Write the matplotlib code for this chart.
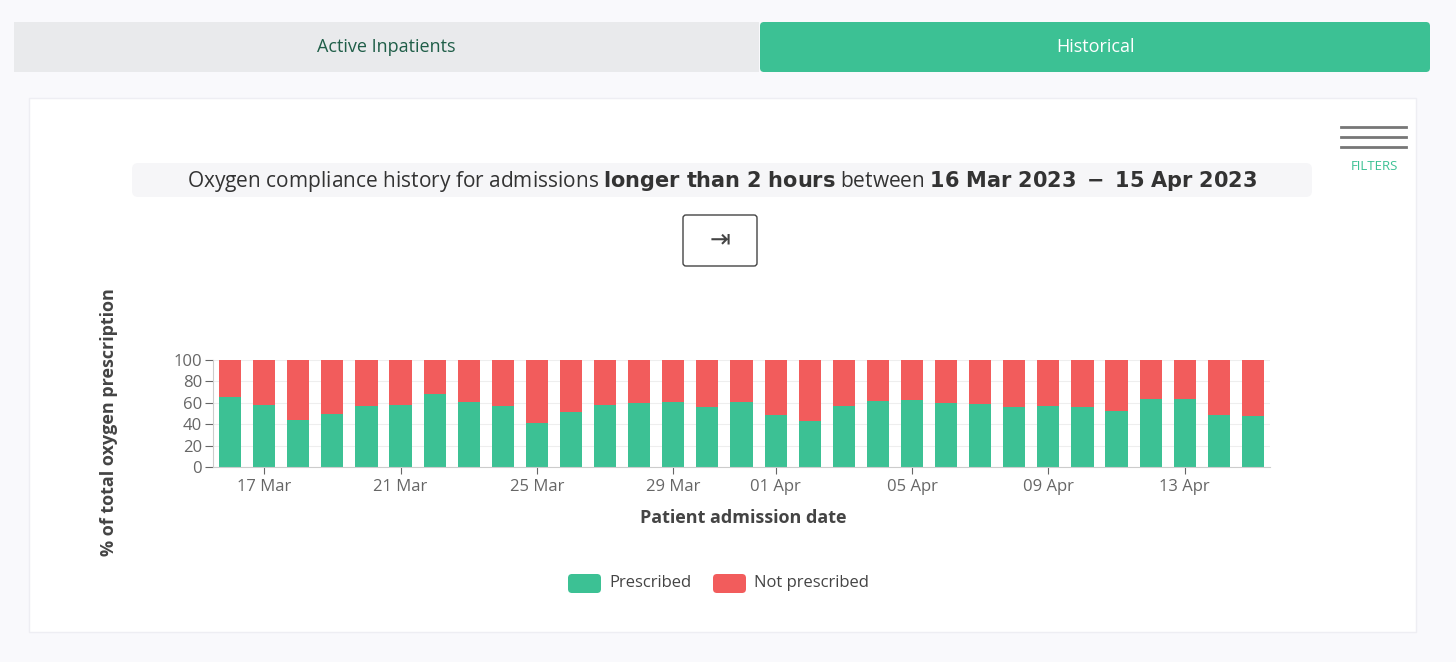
import matplotlib
matplotlib.use("Agg")
import matplotlib.pyplot as plt
from matplotlib.patches import FancyBboxPatch, Rectangle
import numpy as np

dates = ["16 Mar","17 Mar","18 Mar","19 Mar","20 Mar","21 Mar","22 Mar","23 Mar","24 Mar","25 Mar",
         "26 Mar","27 Mar","28 Mar","29 Mar","30 Mar","31 Mar","01 Apr","02 Apr","03 Apr","04 Apr",
         "05 Apr","06 Apr","07 Apr","08 Apr","09 Apr","10 Apr","11 Apr","12 Apr","13 Apr","14 Apr","15 Apr"]
prescribed = [65,58,44,50,57,58,68,61,57,41,51,58,60,61,56,61,49,43,57,62,63,60,59,56,57,56,52,64,64,49,48]
not_prescribed = [100 - p for p in prescribed]
tick_labels = ["17 Mar","21 Mar","25 Mar","29 Mar","01 Apr","05 Apr","09 Apr","13 Apr"]

GREEN = "#3cc194"
RED = "#f25c5c"
FONT = "Montserrat"
plt.rcParams["font.family"] = ["Open Sans", "DejaVu Sans"]

fig = plt.figure(figsize=(14.56, 6.62), dpi=100)
fig.patch.set_facecolor("#f9f9fc")

# overlay in pixel coords
ov = fig.add_axes([0, 0, 1, 1])
ov.set_xlim(0, 1456); ov.set_ylim(662, 0); ov.axis("off")
ov.add_patch(Rectangle((14, 22), 745, 50, facecolor="#e9eaec", edgecolor="none"))
ov.add_patch(FancyBboxPatch((760, 22), 670, 50, boxstyle="round,pad=0,rounding_size=4",
                            facecolor=GREEN, edgecolor="none"))
ov.text(386, 47, "Active Inpatients", ha="center", va="center", fontsize=13, color="#1f5e48")
ov.text(1095, 47, "Historical", ha="center", va="center", fontsize=13, color="white")
ov.add_patch(Rectangle((29, 98), 1387, 534, facecolor="white", edgecolor="#eeeef3"))
ov.add_patch(FancyBboxPatch((132, 163), 1180, 34, boxstyle="round,pad=0,rounding_size=6",
                            facecolor="#f6f6f8", edgecolor="none"))
ov.text(722, 181, "Oxygen compliance history for admissions $\\bf{longer\\ than\\ 2\\ hours}$ between $\\bf{16\\ Mar\\ 2023\\ -\\ 15\\ Apr\\ 2023}$",
        ha="center", va="center", fontsize=15, color="#333333")
ov.add_patch(FancyBboxPatch((683, 215), 74, 51, boxstyle="round,pad=0,rounding_size=3",
                            facecolor="white", edgecolor="#444444", lw=1))
ov.text(720, 240, "⇥", ha="center", va="center", fontsize=18, color="#444444")
for y in (127, 137, 147):
    ov.plot([1341, 1406], [y, y], color="#777777", lw=2)
ov.text(1374, 166, "FILTERS", ha="center", va="center", fontsize=9.5, color=GREEN)
ov.text(109, 422, "% of total oxygen prescription", ha="center", va="center", rotation=90,
        fontsize=13, fontweight="bold", color="#444444")
ov.text(743, 518, "Patient admission date", ha="center", va="center", fontsize=13,
        fontweight="bold", color="#444444")
ov.add_patch(FancyBboxPatch((568, 574), 33, 19, boxstyle="round,pad=0,rounding_size=4", facecolor=GREEN, edgecolor="none"))
ov.text(609, 583, "Prescribed", va="center", fontsize=12, color="#444444")
ov.add_patch(FancyBboxPatch((713, 574), 33, 19, boxstyle="round,pad=0,rounding_size=4", facecolor=RED, edgecolor="none"))
ov.text(754, 583, "Not prescribed", va="center", fontsize=12, color="#444444")

ax = fig.add_axes([213/1456, (662-467)/662, 1057/1456, 107/662])
x = np.arange(len(dates))
ax.bar(x, prescribed, width=0.65, color=GREEN)
ax.bar(x, not_prescribed, bottom=prescribed, width=0.65, color=RED)
ax.set_xlim(-0.5, len(dates) - 0.5)
ax.set_ylim(0, 100)
ax.set_yticks([0, 20, 40, 60, 80, 100])
ax.set_xticks([dates.index(t) for t in tick_labels])
ax.set_xticklabels(tick_labels)
ax.tick_params(labelsize=12, colors="#666666", length=5)
ax.tick_params(axis="y", length=6, pad=2)
ax.grid(axis="y", color="#eeeeee", lw=0.8)
ax.set_axisbelow(True)
for s in ("top", "right"):
    ax.spines[s].set_visible(False)
for s in ("left", "bottom"):
    ax.spines[s].set_color("#cccccc")

fig.savefig("out.png", dpi=100, facecolor=fig.get_facecolor())
